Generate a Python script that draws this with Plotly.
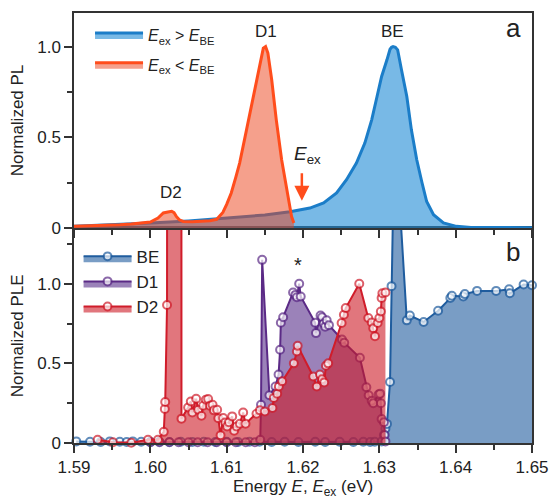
import plotly.graph_objects as go

FONT = "Liberation Sans, Arial, sans-serif"

# ---------------- Panel a : PL spectra ----------------
pl_above_x = [1.5900, 1.5950, 1.6000, 1.6050, 1.6100, 1.6150, 1.6183, 1.6209, 1.6227, 1.6244,
              1.6257, 1.6270, 1.6281, 1.6290, 1.6297, 1.6303, 1.6310, 1.6314, 1.6316, 1.6318,
              1.6321, 1.6324, 1.6329, 1.6336, 1.6342, 1.6349, 1.6356, 1.6362, 1.6371, 1.6384,
              1.6401, 1.6420, 1.6500]
pl_above_y = [0.010, 0.018, 0.027, 0.039, 0.055, 0.072, 0.090, 0.110, 0.138, 0.193,
              0.266, 0.358, 0.468, 0.596, 0.725, 0.835, 0.927, 0.985, 0.996, 1.000,
              0.996, 0.982, 0.872, 0.725, 0.541, 0.376, 0.248, 0.146, 0.073, 0.028,
              0.009, 0.003, 0.002]

pl_below_x = [1.5900, 1.5920, 1.5940, 1.5960, 1.5975, 1.5986, 1.6000, 1.6010, 1.6017, 1.6023,
              1.6028, 1.6031, 1.6034, 1.6038, 1.6043, 1.6055, 1.6065, 1.6078, 1.6087, 1.6091,
              1.6095, 1.6100, 1.6106, 1.6112, 1.6117, 1.6126, 1.6135, 1.6141, 1.6148, 1.6151,
              1.6154, 1.6159, 1.6165, 1.6172, 1.6179, 1.6185, 1.6188]
pl_below_y = [0.010, 0.012, 0.016, 0.018, 0.022, 0.027, 0.033, 0.055, 0.083, 0.088,
              0.092, 0.085, 0.064, 0.045, 0.036, 0.034, 0.037, 0.040, 0.048, 0.065,
              0.086, 0.130, 0.193, 0.280, 0.358, 0.541, 0.725, 0.853, 0.991, 1.000,
              0.964, 0.817, 0.596, 0.376, 0.211, 0.064, 0.027]

# ---------------- Panel b : PLE spectra ----------------
ple_be_x = [1.5903, 1.5921, 1.5935, 1.5947, 1.5960, 1.5969, 1.5977, 1.5988, 1.6000, 1.6012,
            1.6025, 1.6040, 1.6055, 1.6070, 1.6085, 1.6100, 1.6115, 1.6130, 1.6143, 1.6159,
            1.6176, 1.6194, 1.6216, 1.6229, 1.6248, 1.6266, 1.6279, 1.6288, 1.6294, 1.6303,
            1.6306, 1.6308, 1.6310, 1.6314, 1.6316, 1.6320, 1.6336, 1.6340, 1.6358, 1.6377,
            1.6393, 1.6395, 1.6410, 1.6412, 1.6428, 1.6453, 1.6470, 1.6471, 1.6489, 1.6500]
ple_be_y = [0.010, 0.008, 0.006, 0.010, 0.008, 0.006, 0.010, 0.008, 0.006, 0.008,
            0.006, 0.008, 0.006, 0.008, 0.006, 0.008, 0.006, 0.008, 0.008, 0.006,
            0.008, 0.006, 0.008, 0.006, 0.008, 0.006, 0.008, 0.006, 0.008, 0.010,
            0.050, 0.090, 0.120, 0.383, 0.985, 2.030, 0.770, 0.800, 0.760, 0.830,
            0.910, 0.925, 0.920, 0.935, 0.955, 0.955, 0.965, 0.940, 0.995, 0.990]

ple_d1_x = [1.6000, 1.6012, 1.6025, 1.6037, 1.6050, 1.6062, 1.6075, 1.6087, 1.6100, 1.6112,
            1.6125, 1.6137, 1.6144, 1.6145, 1.61465, 1.6156, 1.6164, 1.6168, 1.6170, 1.6171,
            1.6174, 1.6187, 1.6190, 1.6192, 1.6195, 1.6197, 1.6216, 1.6217, 1.6223, 1.6225,
            1.6227, 1.6229, 1.6231, 1.6234, 1.6251, 1.6254, 1.62745, 1.6283, 1.6286, 1.6290,
            1.6292, 1.6299, 1.6301, 1.6302, 1.6303, 1.6306, 1.6307, 1.6308]
ple_d1_y = [0.005, 0.005, 0.005, 0.005, 0.005, 0.005, 0.005, 0.005, 0.005, 0.005,
            0.005, 0.005, 0.020, 0.240, 1.150, 0.300, 0.355, 0.430, 0.585, 0.755,
            0.790, 0.945, 0.930, 0.915, 1.000, 0.920, 0.755, 0.690, 0.800, 0.790,
            0.750, 0.730, 0.770, 0.740, 0.650, 0.630, 0.535, 0.350, 0.300, 0.265,
            0.250, 0.305, 0.310, 0.250, 0.150, 0.130, 0.050, 0.010]

ple_d2_x = [1.5931, 1.5951, 1.5975, 1.5997, 1.6010, 1.60176, 1.6019, 1.60195, 1.60219, 1.6023,
            1.6040, 1.60408, 1.60495, 1.6053, 1.6055, 1.6060, 1.60626, 1.6067, 1.60691, 1.60727,
            1.60757, 1.6078, 1.60815, 1.60832, 1.60875, 1.6089, 1.6092, 1.60954, 1.6098, 1.61006,
            1.6103, 1.61072, 1.61098, 1.6113, 1.61173, 1.61216, 1.61247, 1.61391, 1.61435, 1.6150,
            1.6160, 1.61618, 1.61662, 1.61684, 1.61727, 1.6188, 1.6192, 1.6193, 1.62134, 1.6218,
            1.62222, 1.6225, 1.62278, 1.6230, 1.6233, 1.62506, 1.62536, 1.6256, 1.62737, 1.62855,
            1.6290, 1.6292, 1.62943, 1.62978, 1.6300, 1.6302, 1.6303, 1.6304, 1.6308]
ple_d2_y = [0.020, 0.005, 0.002, 0.020, 0.020, 0.070, 0.213, 0.257, 0.866, 15.0,
            15.0, 0.153, 0.223, 0.261, 0.192, 0.278, 0.209, 0.171, 0.234, 0.272,
            0.276, 0.234, 0.240, 0.205, 0.209, 0.155, 0.048, 0.157, 0.129, 0.104,
            0.130, 0.167, 0.077, 0.104, 0.121, 0.192, 0.121, 0.184, 0.205, 0.198,
            0.220, 0.283, 0.310, 0.355, 0.387, 0.500, 0.575, 0.610, 0.418, 0.355,
            0.430, 0.400, 0.380, 0.485, 0.500, 0.753, 0.805, 0.847, 1.000, 0.785,
            0.757, 0.720, 0.670, 0.753, 0.785, 0.826, 0.910, 0.940, 0.945]

x_ticks = [1.59, 1.60, 1.61, 1.62, 1.63, 1.64, 1.65]
x_ticktext = ["1.59", "1.60", "1.61", "1.62", "1.63", "1.64", "1.65"]
y_ticks = [0, 0.5, 1.0]
y_ticktext = ["0", "0.5", "1.0"]

X_RANGE = [1.59, 1.65]
YA_RANGE = [0, 1.185]
YB_RANGE = [0, 1.35]

def marker_sizes(vals, ymax, size=8):
    return [size if v <= ymax else 0 for v in vals]

fig = go.Figure()

# panel a
fig.add_trace(go.Scatter(
    x=pl_above_x, y=pl_above_y, xaxis="x2", yaxis="y2", mode="lines", fill="tozeroy",
    line=dict(color="#1b7dc8", width=3), fillcolor="rgba(30,138,213,0.6)",
    name="<i>E</i><sub>ex</sub> &gt; <i>E</i><sub>BE</sub>", legend="legend", legendgroup="a1"))
fig.add_trace(go.Scatter(
    x=pl_below_x, y=pl_below_y, xaxis="x2", yaxis="y2", mode="lines", fill="tozeroy",
    line=dict(color="#ff4d1c", width=3), fillcolor="rgba(235,65,25,0.5)",
    name="<i>E</i><sub>ex</sub> &lt; <i>E</i><sub>BE</sub>", legend="legend", legendgroup="a2"))

# panel b
for xs, ys, lc, fc, nm in [
    (ple_be_x, ple_be_y, "#1f5c9e", "rgba(31,92,158,0.6)", "BE"),
    (ple_d1_x, ple_d1_y, "#5b2a86", "rgba(88,47,138,0.6)", "D1"),
    (ple_d2_x, ple_d2_y, "#d01c2a", "rgba(205,27,38,0.6)", "D2"),
]:
    fig.add_trace(go.Scatter(
        x=xs, y=ys, xaxis="x", yaxis="y", mode="lines+markers", fill="tozeroy",
        line=dict(color=lc, width=2), fillcolor=fc,
        marker=dict(symbol="circle", size=marker_sizes(ys, YB_RANGE[1]), color="white",
                    line=dict(color=lc, width=2)),
        cliponaxis=False, name=nm, legend="legend2", legendgroup=nm))

axis_common = dict(showline=True, linecolor="#333333", linewidth=1.5, mirror=True,
                   showgrid=False, zeroline=False, ticks="outside", ticklen=8, tickwidth=1.5,
                   tickcolor="#333333", automargin=False,
                   tickfont=dict(family=FONT, size=17, color="#222222"))

fig.update_layout(
    width=549, height=500,
    margin=dict(l=74.3, r=17.3, t=13.3, b=56.7, autoexpand=False),
    paper_bgcolor="white", plot_bgcolor="white",
    font=dict(family=FONT, size=17, color="#222222"),
    xaxis=dict(domain=[0, 1], anchor="y", range=X_RANGE, tickmode="array",
               tickvals=x_ticks, ticktext=x_ticktext,
               minor=dict(dtick=0.005, tick0=1.59, ticks="outside", ticklen=5,
                          tickwidth=1.5, tickcolor="#333333"),
               **axis_common),
    xaxis2=dict(domain=[0, 1], anchor="y2", range=X_RANGE, matches="x", tickmode="array",
                tickvals=x_ticks, showticklabels=False,
                minor=dict(dtick=0.005, tick0=1.59, ticks="outside", ticklen=5,
                           tickwidth=1.5, tickcolor="#333333"),
                **axis_common),
    yaxis=dict(domain=[0, 0.5], anchor="x", range=YB_RANGE, tickmode="array",
               tickvals=y_ticks, ticktext=y_ticktext,
               minor=dict(tickvals=[0.25, 0.75, 1.25], ticks="outside", ticklen=5,
                          tickwidth=1.5, tickcolor="#333333"),
               **axis_common),
    yaxis2=dict(domain=[0.5, 1], anchor="x2", range=YA_RANGE, tickmode="array",
                tickvals=y_ticks, ticktext=y_ticktext,
                minor=dict(tickvals=[0.25, 0.75], ticks="outside", ticklen=5,
                           tickwidth=1.5, tickcolor="#333333"),
                **axis_common),
    legend=dict(x=0.035, y=0.988, xanchor="left", yanchor="top", bgcolor="rgba(0,0,0,0)",
                font=dict(family=FONT, size=16, color="#222222"), tracegroupgap=6,
                itemwidth=48),
    legend2=dict(x=0.01, y=0.475, xanchor="left", yanchor="top", bgcolor="rgba(0,0,0,0)",
                 font=dict(family=FONT, size=17, color="#222222"), tracegroupgap=0,
                 itemwidth=48),
    showlegend=True,
)

def note(text, x, y, xref="paper", yref="paper", size=17, **kw):
    d = dict(text=text, xref=xref, yref=yref, x=x, y=y, showarrow=False,
             xanchor="center", yanchor="middle", font=dict(size=size, family=FONT, color="#222222"))
    d.update(kw)
    return d

ann = [
    note("Normalized PL", -0.123, 0.75, textangle=-90),
    note("Normalized PLE", -0.123, 0.25, textangle=-90),
    note("Energy <i>E</i>, <i>E</i><sub>ex</sub> (eV)", 0.5, -0.104),
    note("a", 0.959, 0.966, size=26),
    note("b", 0.959, 0.445, size=26),
    note("D1", 1.6151, 1.083, "x2", "y2"),
    note("BE", 1.6317, 1.083, "x2", "y2"),
    note("D2", 1.6027, 0.193, "x2", "y2"),
    note("<i>E</i><sub>ex</sub>", 1.6185, 0.40, "x2", "y2", size=19, xanchor="left"),
    note("*", 1.6194, 1.12, "x", "y", size=20),
    dict(text="", xref="x2", yref="y2", x=1.61985, y=0.15, ax=1.61985, ay=0.31,
         axref="x2", ayref="y2", showarrow=True, arrowhead=2, arrowsize=1.2,
         arrowwidth=2.5, arrowcolor="#ff4d1c"),
]
fig.update_layout(annotations=ann)

fig.write_html("out.html", config={"displayModeBar": False},
               post_script="document.body.style.margin='0px';")
